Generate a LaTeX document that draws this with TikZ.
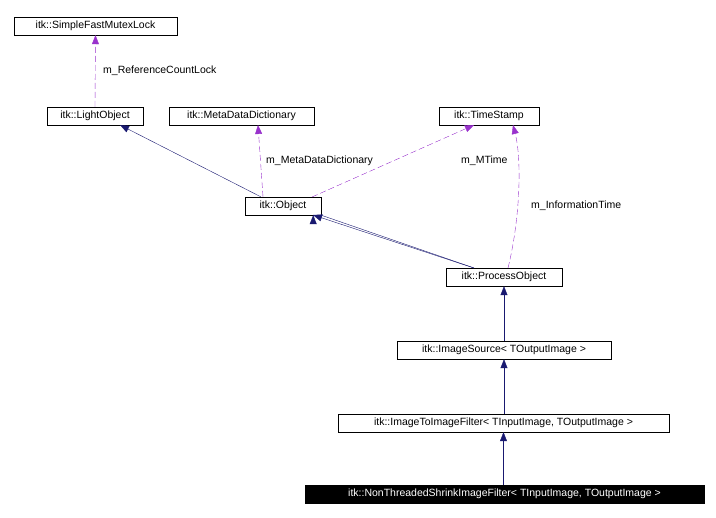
\documentclass[tikz,border=0pt]{standalone}
\usepackage{fontspec}
\setmainfont{Liberation Sans}
\usetikzlibrary{arrows.meta}
\definecolor{navy}{RGB}{25,25,112}
\definecolor{orchid}{RGB}{153,50,204}
\begin{document}
\begin{tikzpicture}[x=1pt,y=-1pt,
  box/.style={draw=black,fill=white,inner sep=0pt,minimum height=18pt,font=\fontsize{10.5}{12}\selectfont},
  inh/.style={draw=navy,-{Triangle[length=9pt,width=7pt,fill=navy]}},
  use/.style={draw=orchid,dash pattern=on 6pt off 3pt,-{Triangle[length=9pt,width=7pt,fill=orchid]}},
  lab/.style={font=\fontsize{10.5}{12}\selectfont,inner sep=1pt}]
\useasboundingbox (0,0) rectangle (716,518);
\node[box,minimum width=163pt] (mutex) at (95.5,26) {itk::SimpleFastMutexLock};
\node[box,minimum width=96pt] (light) at (95,116) {itk::LightObject};
\node[box,minimum width=145pt] (meta) at (241.5,116) {itk::MetaDataDictionary};
\node[box,minimum width=100pt] (ts) at (489,116) {itk::TimeStamp};
\node[box,minimum width=76pt] (obj) at (283,206) {itk::Object};
\node[box,minimum width=116pt] (po) at (504,277) {itk::ProcessObject};
\node[box,minimum width=214pt] (is) at (504,350) {itk::ImageSource< TOutputImage >};
\node[box,minimum width=331pt] (itif) at (503.5,423) {itk::ImageToImageFilter< TInputImage, TOutputImage >};
\node[box,minimum width=399pt,fill=black,text=white] (nt) at (504.5,494) {itk::NonThreadedShrinkImageFilter< TInputImage, TOutputImage >};
\draw[use] (light.north) -- (mutex.south);
\node[lab,anchor=west] (l1) at (102,71) {m\_ReferenceCountLock};
\draw[inh] (obj.north west) ++(16,0) -- (120,125);
\draw[use] (obj.north) ++(-20,0) -- (258,125);
\node[lab,anchor=west] (l2) at (265,161) {m\_MetaDataDictionary};
\draw[use] (312,197) -- (474,125);
\node[lab,anchor=west] (l3) at (460,161) {m\_MTime};
\draw[inh] (474,268) -- (obj.south east) ++(-8,0);
\draw[inh] (474,268) -- (313,215);
\draw[use] (508,268) .. controls (520,220) and (522,160) .. (513,125);
\node[lab,anchor=west] (l4) at (530,206) {m\_InformationTime};
\draw[inh] (is.north) -- (po.south);
\draw[inh] (itif.north) ++(0.5,0) -- (is.south);
\draw[inh] (nt.north) ++(-1,0) -- (itif.south);
\end{tikzpicture}
\end{document}
